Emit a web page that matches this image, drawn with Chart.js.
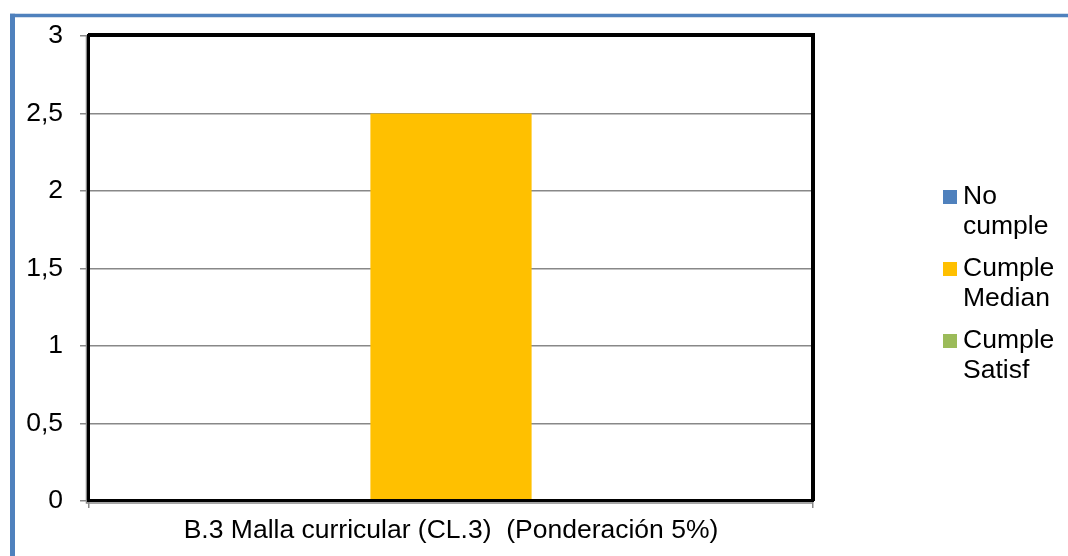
<!DOCTYPE html>
<html>
<head>
<meta charset="utf-8">
<script src="https://cdn.jsdelivr.net/npm/chart.js@4"></script>
<style>
  html, body { margin: 0; padding: 0; background: #fff; }
  canvas { display: block; }
</style>
</head>
<body>
<canvas id="c" width="1068" height="556"></canvas>
<script>
const categories = ['B.3 Malla curricular (CL.3)  (Ponderación 5%)'];
const noCumple = [0];
const cumpleMedian = [2.5];
const cumpleSatisf = [0];
const seriesNames = [['No', 'cumple'], ['Cumple', 'Median'], ['Cumple', 'Satisf']];
const seriesColors = ['#4F81BD', '#FFC000', '#9BBB59'];
const yMin = 0, yMax = 3, yStep = 0.5;

const FONT = '"Liberation Sans", Arial, sans-serif';
const FSIZE = 26.5;

const framePlugin = {
  id: 'frame',
  beforeDraw(chart) {
    const ctx = chart.ctx;
    ctx.save();
    ctx.fillStyle = '#fff';
    ctx.fillRect(0, 0, chart.width, chart.height);
    ctx.strokeStyle = '#4F81BD';
    ctx.lineWidth = 3.5;
    ctx.beginPath();
    ctx.moveTo(10, 15.5);
    ctx.lineTo(chart.width, 15.5);
    ctx.stroke();
    ctx.lineWidth = 5;
    ctx.beginPath();
    ctx.moveTo(12.5, 13.75);
    ctx.lineTo(12.5, chart.height);
    ctx.stroke();
    ctx.restore();
  },
  afterDatasetsDraw(chart) {
    const ctx = chart.ctx;
    const a = chart.chartArea;
    ctx.save();
    ctx.strokeStyle = '#888';
    ctx.lineWidth = 1.5;
    ctx.beginPath();
    ctx.moveTo(a.left - 2.5, a.top);
    ctx.lineTo(a.left - 2.5, a.bottom + 2);
    ctx.lineTo(a.right, a.bottom + 2);
    ctx.stroke();
    ctx.strokeStyle = '#000';
    ctx.lineWidth = 3;
    ctx.strokeRect(a.left - 0.5, a.top - 0.5, a.right - a.left, a.bottom - a.top);
    ctx.lineWidth = 4;
    ctx.beginPath();
    ctx.moveTo(a.left - 1, a.top - 1);
    ctx.lineTo(a.right, a.top - 1);
    ctx.lineTo(a.right, a.bottom);
    ctx.stroke();
    ctx.restore();
  },
  afterDraw(chart) {
    const ctx = chart.ctx;
    ctx.save();
    ctx.font = FSIZE + 'px ' + FONT;
    ctx.textBaseline = 'middle';
    ctx.textAlign = 'left';
    const boxX = 943, textX = 963, firstY = 197, itemStep = 72, lineH = 30, box = 14;
    chart.data.datasets.forEach((ds, i) => {
      const y = firstY + i * itemStep;
      ctx.fillStyle = ds.backgroundColor;
      ctx.fillRect(boxX, y - box / 2, box, box);
      ctx.fillStyle = '#000';
      seriesNames[i].forEach((t, j) => ctx.fillText(t, textX, y + j * lineH));
    });
    ctx.restore();
  }
};

new Chart(document.getElementById('c'), {
  type: 'bar',
  data: {
    labels: categories,
    datasets: [
      { label: seriesNames[0].join(' '), data: noCumple, backgroundColor: seriesColors[0] },
      { label: seriesNames[1].join(' '), data: cumpleMedian, backgroundColor: seriesColors[1] },
      { label: seriesNames[2].join(' '), data: cumpleSatisf, backgroundColor: seriesColors[2] }
    ]
  },
  options: {
    responsive: false,
    animation: false,
    devicePixelRatio: 1,
    categoryPercentage: 0.668,
    barPercentage: 1,
    layout: { padding: { top: 36, right: 255, bottom: 0, left: 0 } },
    plugins: {
      legend: { display: false },
      tooltip: { enabled: false },
      title: { display: false }
    },
    scales: {
      x: {
        offset: true,
        border: { display: false },
        grid: { offset: true, drawOnChartArea: false, drawTicks: true, tickLength: 7, color: '#888', lineWidth: 1.5 },
        ticks: { color: '#000', font: { family: FONT, size: FSIZE }, padding: 7, maxRotation: 0 },
        afterFit(scale) { scale.height = 55; }
      },
      y: {
        min: yMin, max: yMax,
        border: { display: false },
        grid: { color: '#888', lineWidth: 1.5, tickLength: 9, drawTicks: true, tickColor: '#888' },
        ticks: {
          stepSize: yStep,
          color: '#000',
          font: { family: FONT, size: FSIZE },
          padding: 17,
          callback: (v) => String(v).replace('.', ',')
        },
        afterFit(scale) { scale.width = 89; }
      }
    }
  },
  plugins: [framePlugin]
});
</script>
</body>
</html>
